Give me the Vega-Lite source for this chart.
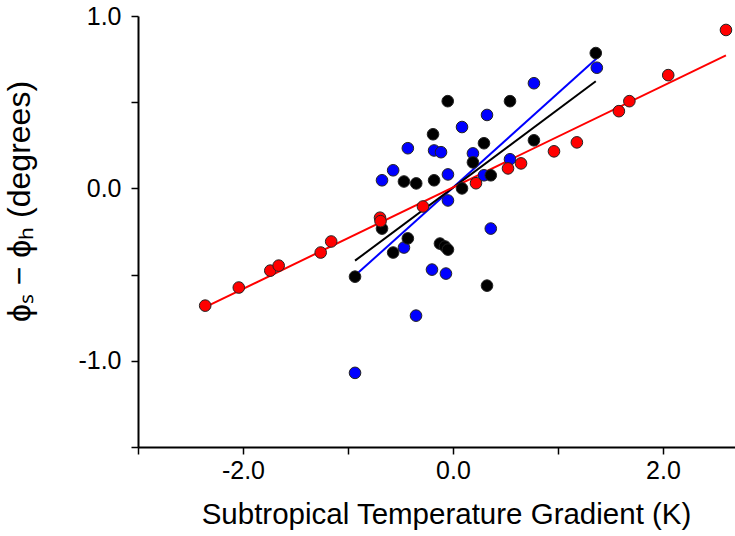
{
  "$schema": "https://vega.github.io/schema/vega-lite/v6.json",
  "autosize": {"type": "none"},
  "width": 597,
  "height": 431,
  "padding": {"left": 138, "top": 16, "right": 0, "bottom": 89},
  "background": "white",
  "config": {"view": {"stroke": null}},
  "data": {"values": [
    {"group": "blue", "x": 1.37, "y": 0.70},
    {"group": "blue", "x": 0.771, "y": 0.61},
    {"group": "blue", "x": 0.324, "y": 0.426},
    {"group": "blue", "x": 0.086, "y": 0.356},
    {"group": "blue", "x": -0.18, "y": 0.22},
    {"group": "blue", "x": -0.114, "y": 0.21},
    {"group": "blue", "x": 0.19, "y": 0.203},
    {"group": "blue", "x": 0.543, "y": 0.169},
    {"group": "blue", "x": -0.048, "y": 0.081},
    {"group": "blue", "x": 0.295, "y": 0.076},
    {"group": "blue", "x": -0.048, "y": -0.07},
    {"group": "blue", "x": 0.36, "y": -0.233},
    {"group": "blue", "x": -0.43, "y": 0.233},
    {"group": "blue", "x": -0.57, "y": 0.105},
    {"group": "blue", "x": -0.676, "y": 0.047},
    {"group": "blue", "x": -0.467, "y": -0.343},
    {"group": "blue", "x": -0.2, "y": -0.471},
    {"group": "blue", "x": -0.067, "y": -0.494},
    {"group": "blue", "x": -0.352, "y": -0.738},
    {"group": "blue", "x": -0.933, "y": -1.07},
    {"group": "black", "x": 1.36, "y": 0.785},
    {"group": "black", "x": -0.05, "y": 0.506},
    {"group": "black", "x": 0.543, "y": 0.506},
    {"group": "black", "x": -0.19, "y": 0.314},
    {"group": "black", "x": 0.295, "y": 0.262},
    {"group": "black", "x": 0.771, "y": 0.279},
    {"group": "black", "x": 0.19, "y": 0.151},
    {"group": "black", "x": -0.18, "y": 0.047},
    {"group": "black", "x": 0.086, "y": 0.0},
    {"group": "black", "x": 0.36, "y": 0.076},
    {"group": "black", "x": -0.467, "y": 0.04},
    {"group": "black", "x": -0.35, "y": 0.029},
    {"group": "black", "x": -0.676, "y": -0.233},
    {"group": "black", "x": -0.43, "y": -0.29},
    {"group": "black", "x": -0.57, "y": -0.372},
    {"group": "black", "x": -0.124, "y": -0.32},
    {"group": "black", "x": -0.076, "y": -0.337},
    {"group": "black", "x": -0.048, "y": -0.355},
    {"group": "black", "x": -0.933, "y": -0.512},
    {"group": "black", "x": 0.324, "y": -0.564},
    {"group": "red", "x": -2.36, "y": -0.68},
    {"group": "red", "x": -2.04, "y": -0.575},
    {"group": "red", "x": -1.74, "y": -0.477},
    {"group": "red", "x": -1.66, "y": -0.448},
    {"group": "red", "x": -1.26, "y": -0.372},
    {"group": "red", "x": -1.16, "y": -0.308},
    {"group": "red", "x": -0.695, "y": -0.17},
    {"group": "red", "x": -0.69, "y": -0.19},
    {"group": "red", "x": -0.286, "y": -0.105},
    {"group": "red", "x": 0.219, "y": 0.03},
    {"group": "red", "x": 0.524, "y": 0.116},
    {"group": "red", "x": 0.648, "y": 0.145},
    {"group": "red", "x": 0.962, "y": 0.215},
    {"group": "red", "x": 1.18, "y": 0.267},
    {"group": "red", "x": 1.58, "y": 0.448},
    {"group": "red", "x": 1.68, "y": 0.506},
    {"group": "red", "x": 2.05, "y": 0.657},
    {"group": "red", "x": 2.6, "y": 0.919}
  ]},
  "encoding": {
    "x": {
      "field": "x", "type": "quantitative",
      "scale": {"domain": [-3, 2.686], "nice": false, "zero": false},
      "axis": {
        "values": [-3, -2, -1, 0, 1, 2],
        "labelExpr": "datum.value == -2 ? '-2.0' : datum.value == 0 ? '0.0' : datum.value == 2 ? '2.0' : ''",
        "grid": false,
        "domainColor": "#000", "domainWidth": 2,
        "tickColor": "#000", "tickWidth": 1.5, "tickSize": 7,
        "labelFont": "Liberation Sans", "labelFontSize": 25, "labelColor": "#000",
        "labelPadding": 4,
        "title": "Subtropical Temperature Gradient (K)",
        "titleFont": "Liberation Sans", "titleFontSize": 29.5, "titleFontWeight": "normal", "titleColor": "#000",
        "titleBaseline": "top", "titleY": 53, "titleX": 308
      }
    },
    "y": {
      "field": "y", "type": "quantitative",
      "scale": {"domain": [-1.5, 1.0], "nice": false, "zero": false},
      "axis": {
        "values": [-1.5, -1, -0.5, 0, 0.5, 1],
        "labelExpr": "datum.value == 1 ? '1.0' : datum.value == 0 ? '0.0' : datum.value == -1 ? '-1.0' : ''",
        "grid": false,
        "domainColor": "#000", "domainWidth": 2,
        "tickColor": "#000", "tickWidth": 1.5, "tickSize": 7,
        "labelFont": "Liberation Sans", "labelFontSize": 25, "labelColor": "#000",
        "labelPadding": 10,
        "title": "ϕₛ − ϕₕ (degrees)",
        "titleFont": "Liberation Sans", "titleFontSize": 32, "titleFontWeight": "normal", "titleColor": "#000",
        "titleAngle": -90, "titleBaseline": "top", "titleAlign": "center",
        "titleX": -134, "titleY": 185
      }
    },
    "color": {
      "field": "group", "type": "nominal",
      "scale": {"domain": ["blue", "black", "red"], "range": ["#0000ff", "#000000", "#ff0000"]},
      "legend": null
    }
  },
  "layer": [
    {
      "transform": [{"regression": "y", "on": "x", "groupby": ["group"]}],
      "mark": {"type": "line", "strokeWidth": 2}
    },
    {
      "mark": {"type": "circle", "size": 135, "opacity": 1, "stroke": "#222", "strokeWidth": 1}
    }
  ]
}
